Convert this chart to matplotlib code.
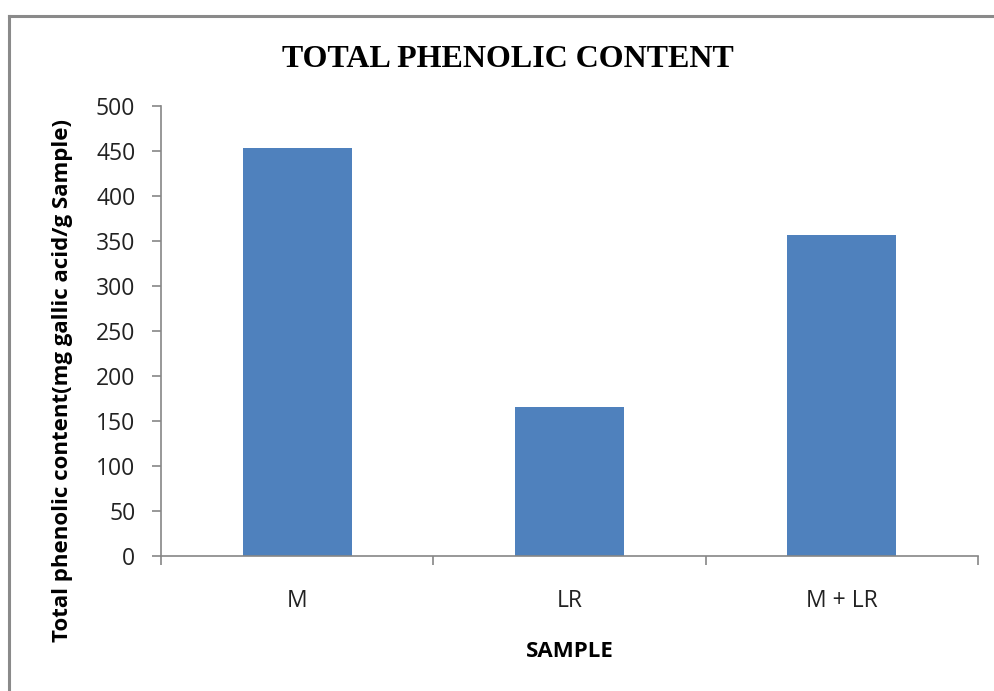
import numpy as np
import matplotlib
matplotlib.use("Agg")
from matplotlib import pyplot as plt
from matplotlib.lines import Line2D

samples = ["M", "LR", "M + LR"]
phenolic = [453, 166, 357]
y_ticks = list(range(0, 501, 50))

bar_color = "#4F81BD"
axis_gray = "#868686"
sans = ["Open Sans", "DejaVu Sans"]

fig = plt.figure(figsize=(9.94, 6.91), dpi=100)
ax = fig.add_axes([0.162, 0.1954, 0.822, 0.6512])

x = np.arange(len(samples))
ax.bar(x, phenolic, width=0.4, color=bar_color, zorder=2)

ax.set_xlim(-0.5, len(samples) - 0.5)
ax.set_ylim(0, 500)
ax.set_yticks(y_ticks)
ax.set_yticklabels([str(t) for t in y_ticks], family=sans, fontsize=16.5, color="#222222")

# category labels centred, tick marks on the boundaries
ax.set_xticks(x)
ax.set_xticklabels(samples, family=sans, fontsize=16.5, color="#222222")
ax.tick_params(axis="x", length=0, pad=24)
ax.set_xticks(np.arange(-0.5, len(samples)), minor=True)
ax.tick_params(axis="x", which="minor", length=6.5, width=1.2, color=axis_gray, direction="out")
ax.tick_params(axis="y", length=6.5, width=1.2, color=axis_gray, direction="out", pad=12)

for side in ["top", "right"]:
    ax.spines[side].set_visible(False)
for side in ["left", "bottom"]:
    ax.spines[side].set_color(axis_gray)
    ax.spines[side].set_linewidth(1.2)

ax.set_xlabel("SAMPLE", family=sans, fontsize=16, fontweight="bold", labelpad=20)
ax.set_ylabel("Total phenolic content(mg gallic acid/g Sample)", family=sans,
              fontsize=16, fontweight="bold")
ax.yaxis.set_label_coords(-0.1077, 0.39)

fig.text(0.511, 0.903, "TOTAL PHENOLIC CONTENT", family=["Liberation Serif", "DejaVu Serif"],
         fontsize=23, fontweight="bold", ha="center", va="baseline")

# outer chart frame (only top and left edges fall inside the image)
fig.add_artist(Line2D([0.009, 0.009], [0.0, 0.977], transform=fig.transFigure,
                      color="#8a8a8a", linewidth=2.2))
fig.add_artist(Line2D([0.009, 1.0], [0.977, 0.977], transform=fig.transFigure,
                      color="#8a8a8a", linewidth=2.2))

fig.savefig("out.png", dpi=100)
